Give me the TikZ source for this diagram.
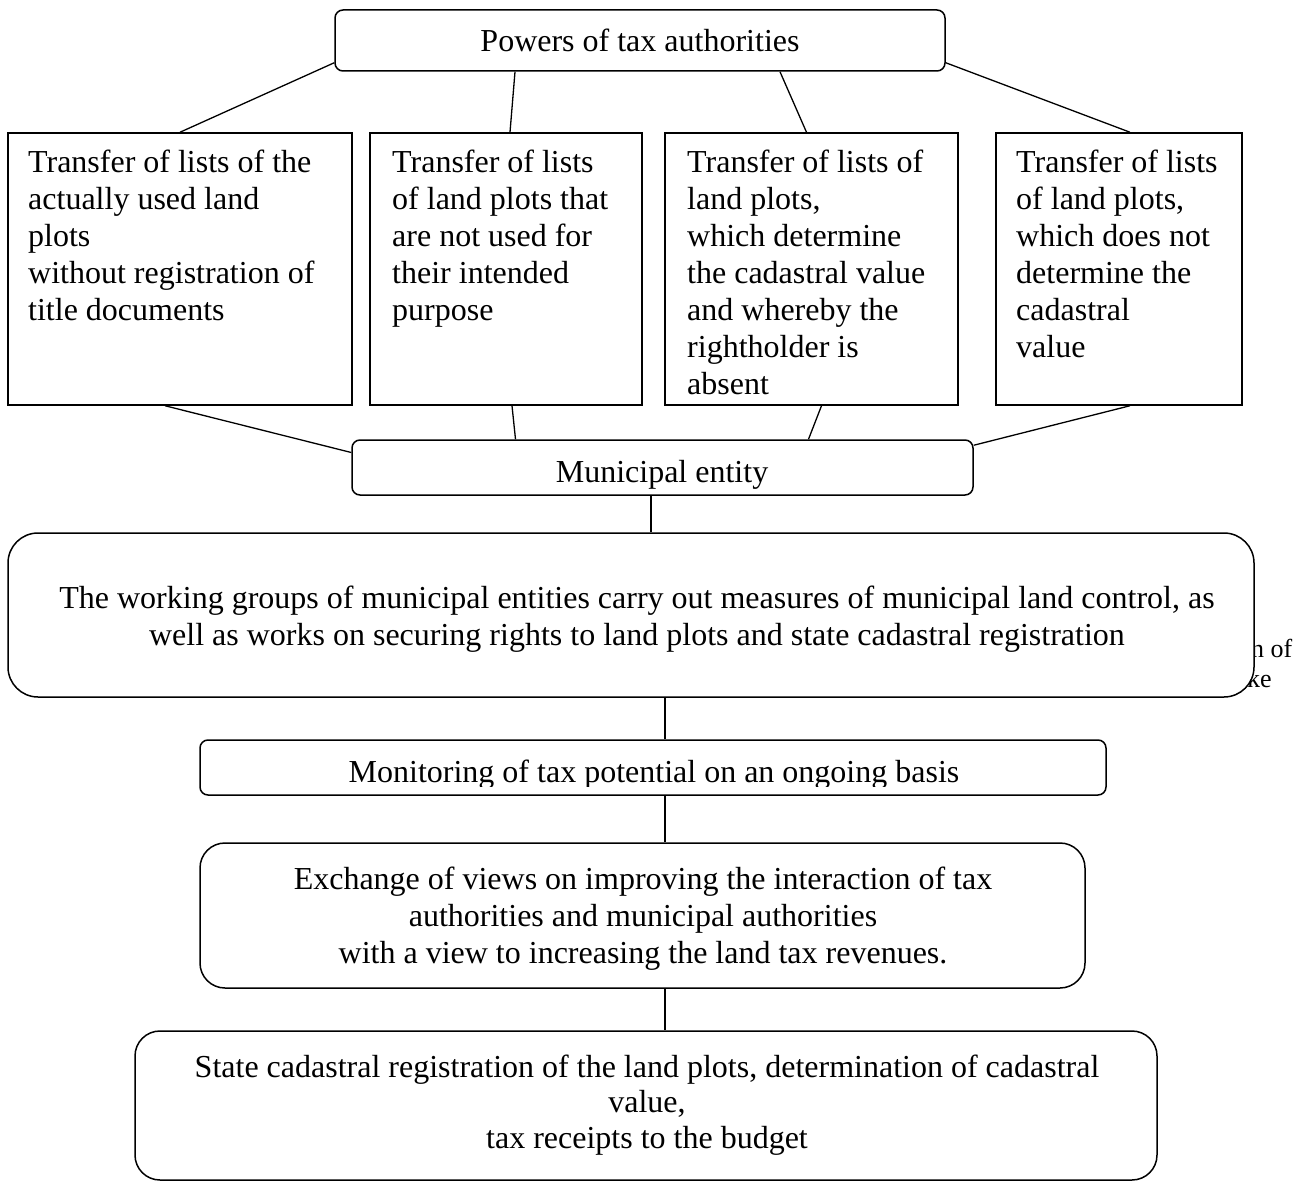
\documentclass[tikz,border=0pt]{standalone}
\usepackage{fontspec}
\setmainfont{Liberation Serif}
\usetikzlibrary{calc}
\newcommand{\leftpar}[2]{\parbox[t]{#1}{\raggedright #2}}
\newcommand{\midpar}[2]{\parbox[t]{#1}{\centering #2}}
\begin{document}
\begin{tikzpicture}[x=1pt,y=-1pt,
  box/.style={draw, line width=1.5pt, inner sep=0pt},
  rbox/.style={box, rounded corners=8pt},
  conn/.style={line width=1.3pt},
  txt/.style={inner sep=0pt, font=\fontsize{32}{37}\selectfont},
  frag/.style={inner sep=0pt, font=\fontsize{26}{30}\selectfont},
]
\useasboundingbox (0,0) rectangle (1304,1182);

% boxes
\node[rbox, minimum width=610pt, minimum height=61pt] (top) at (640,40.5) {};
\node[box, minimum width=344pt, minimum height=272pt] (b1) at (180,269) {};
\node[box, minimum width=272pt, minimum height=272pt] (b2) at (506,269) {};
\node[box, minimum width=293pt, minimum height=272pt] (b3) at (811.5,269) {};
\node[box, minimum width=246pt, minimum height=272pt] (b4) at (1119,269) {};
\node[rbox, minimum width=621pt, minimum height=55pt] (mun) at (662.5,467.5) {};

% fragments partly hidden behind the large box
\node[frag, anchor=base west] (fr1) at (1251,657) {n of};
\node[frag, anchor=base west] (fr2) at (1247,687) {ke};

\node[box, fill=white, rounded corners=30pt, minimum width=1246pt, minimum height=164pt] (big) at (631,615) {};
\node[rbox, minimum width=906pt, minimum height=55pt] (mon) at (653,767.5) {};
\node[box, rounded corners=25pt, minimum width=885pt, minimum height=145pt] (ex) at (642.5,915.5) {};
\node[box, rounded corners=25pt, minimum width=1022pt, minimum height=149pt] (fin) at (646,1105.5) {};

% texts
\node[txt, anchor=base] (ttop) at (640,52) {Powers of tax authorities};
\node[txt, anchor=base west] (tb1) at (28,173) {\leftpar{320pt}{Transfer of lists of the\\actually used land\\plots\\without registration of\\title documents}};
\node[txt, anchor=base west] (tb2) at (392,173) {\leftpar{245pt}{Transfer of lists\\of land plots that\\are not used for\\their intended\\purpose}};
\node[txt, anchor=base west] (tb3) at (687,173) {\leftpar{265pt}{Transfer of lists of\\land plots,\\which determine\\the cadastral value\\and whereby the\\rightholder is\\absent}};
\node[txt, anchor=base west] (tb4) at (1016,173) {\leftpar{222pt}{Transfer of lists\\of land plots,\\which does not\\determine the\\cadastral\\value}};
\node[txt, anchor=base] (tmun) at (662,482) {Municipal entity};
\node[txt, anchor=base] (tbig) at (637,608) {\midpar{1240pt}{The working groups of municipal entities carry out measures of municipal land control, as\\well as works on securing rights to land plots and state cadastral registration}};
\begin{scope}
\clip (200,740) rectangle (1106,786);
\node[txt, anchor=base] (tmon) at (654,782) {Monitoring of tax potential on an ongoing basis};
\end{scope}
\node[txt, anchor=base] (tex) at (643,889) {\midpar{880pt}{Exchange of views on improving the interaction of tax\\authorities and municipal authorities\\with a view to increasing the land tax revenues.}};
\node[txt, font=\fontsize{32}{35.5}\selectfont, anchor=base] (tfin) at (647,1077) {\midpar{1010pt}{State cadastral registration of the land plots, determination of cadastral\\value,\\tax receipts to the budget}};

% connectors
\draw[conn] ([yshift=9pt]top.south west) -- (b1.north);
\draw[conn] ([xshift=-125pt]top.south) -- ([xshift=4pt]b2.north);
\draw[conn] ([xshift=140pt]top.south) -- ([xshift=-5pt]b3.north);
\draw[conn] ([yshift=9pt]top.south east) -- ([xshift=11pt]b4.north);

\draw[conn] ([xshift=-15pt]b1.south) -- ([yshift=15pt]mun.west);
\draw[conn] ([xshift=6pt]b2.south) -- ([xshift=-147pt]mun.north);
\draw[conn] ([xshift=10pt]b3.south) -- ([xshift=146pt]mun.north);
\draw[conn] ([xshift=11pt]b4.south) -- ([yshift=-6pt]mun.north east);

\coordinate (c1) at ([xshift=-11.5pt]mun.south);
\draw[conn] (c1) -- (c1 |- big.north);
\coordinate (c2) at ([xshift=34pt]big.south);
\draw[conn] (c2) -- (c2 |- mon.north);
\coordinate (c3) at ([xshift=12pt]mon.south);
\draw[conn] (c3) -- (c3 |- ex.north);
\coordinate (c4) at ([xshift=22.5pt]ex.south);
\draw[conn] (c4) -- (c4 |- fin.north);
\end{tikzpicture}
\end{document}
